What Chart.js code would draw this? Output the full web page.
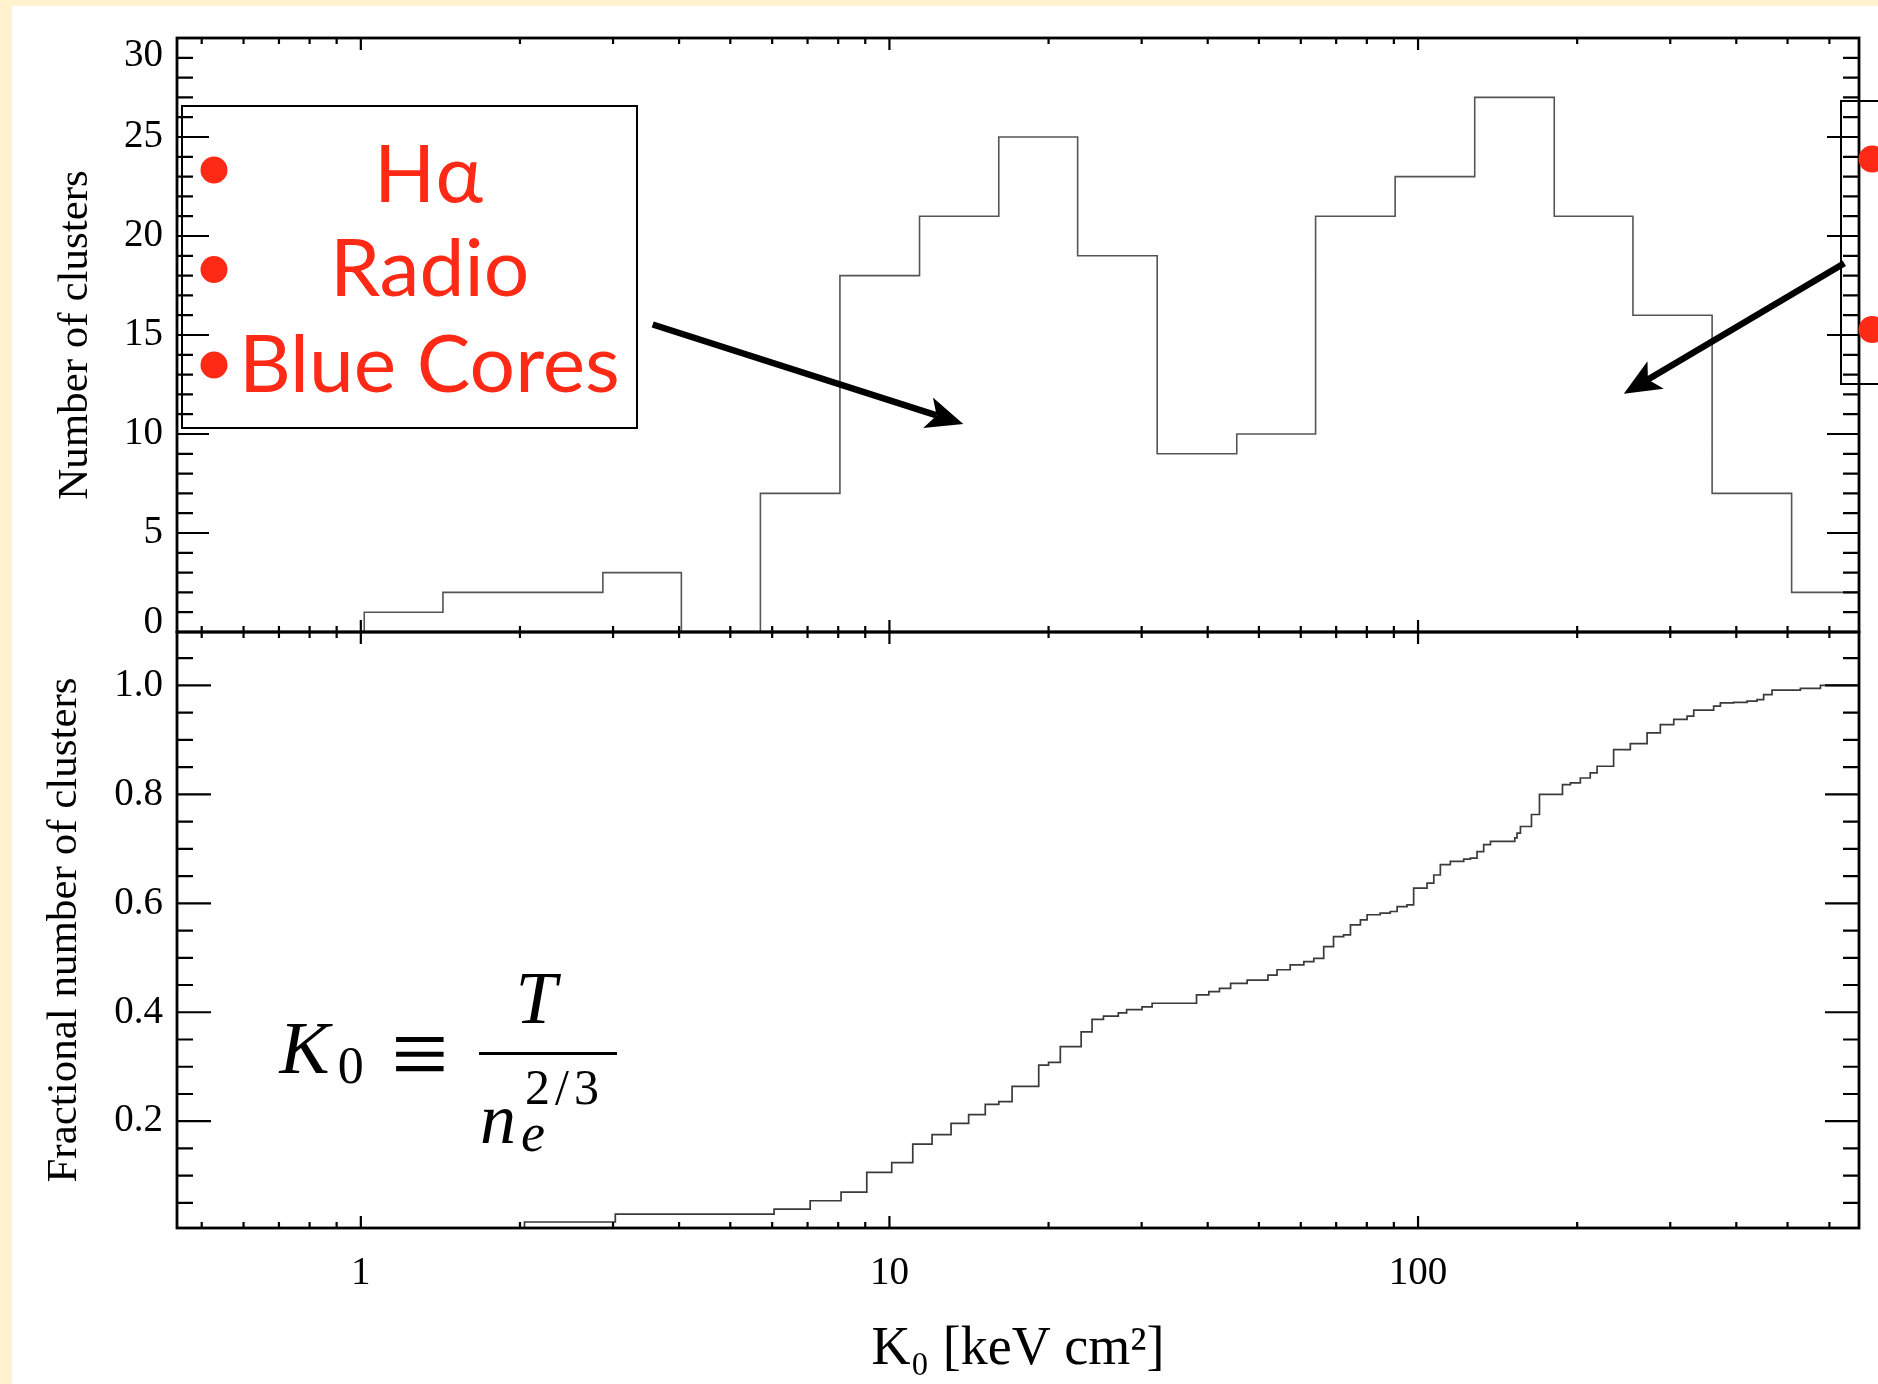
<!DOCTYPE html>
<html><head><meta charset="utf-8">
<script src="https://cdn.jsdelivr.net/npm/chart.js@4/dist/chart.umd.min.js"></script>
<style>
html,body{margin:0;padding:0;background:#fff;}
#wrap{position:relative;width:1878px;height:1384px;overflow:hidden;background:#fff;}
canvas{position:absolute;left:0;top:0;}
</style></head><body>
<div id="wrap"><canvas id="top" width="1878" height="1384"></canvas><canvas id="bot" width="1878" height="1384"></canvas></div>
<script>
// ---------- data ----------
const histEdges  = [1.015, 1.43, 2.03, 2.87, 4.04, 5.70, 8.06, 11.4, 16.1, 22.7, 32.1, 45.4, 64.0, 90.5, 128, 181, 255, 360, 509, 718];
const histCounts = [1, 2, 2, 3, 0, 7, 18, 21, 25, 19, 9, 10, 21, 23, 27, 21, 16, 7, 2];

const cumK = [1.06, 2.04, 3.03, 6.05, 7.08, 8.1, 9.06, 10.1, 11.07, 12.04,
  13.08, 14.12, 15.18, 16.1, 17.06, 19.16, 20.0, 21.05, 23.05, 24.17,
  25.4, 27.1, 28.1, 30.05, 31.4, 38.1, 40.2, 42.1, 44.2, 47.5,
  52.0, 54.1, 57.3, 60.8, 63.5, 66.3, 69.2, 72.3, 74.5, 77.8,
  80.1, 84.8, 88.6, 91.3, 95.3, 98.1, 104, 107.1, 110.2, 115.1,
  122, 125.6, 129.3, 133.1, 137.1, 152.4, 153.9, 156.2, 163.9, 169.7,
  187.6, 194.2, 202.8, 211.7, 218.1, 234.4, 252.1, 271.2, 287.3, 304.6,
  322.8, 332.3, 362.4, 373.2, 395.4, 419.2, 437.8, 450.6, 467.4, 528.8,
  577, 720];
const cumF = [0.004, 0.015, 0.0295, 0.0385, 0.054, 0.070, 0.106, 0.124, 0.158, 0.1755,
  0.196, 0.212, 0.231, 0.236, 0.264, 0.303, 0.308, 0.337, 0.364, 0.387,
  0.393, 0.399, 0.405, 0.410, 0.4165, 0.432, 0.438, 0.444, 0.453, 0.459,
  0.468, 0.478, 0.487, 0.493, 0.499, 0.5205, 0.539, 0.542, 0.5605, 0.5697,
  0.579, 0.582, 0.585, 0.594, 0.597, 0.628, 0.637, 0.652, 0.671, 0.677,
  0.681, 0.683, 0.695, 0.7076, 0.7137, 0.72, 0.729, 0.741, 0.763, 0.80,
  0.818, 0.821, 0.830, 0.8394, 0.8516, 0.882, 0.893, 0.913, 0.928, 0.9375,
  0.9436, 0.9545, 0.962, 0.968, 0.969, 0.971, 0.974, 0.983, 0.9914, 0.9945,
  1.0, 1.0];

const xLabelTicks = [1, 10, 100];
const xMinorTicks = [0.5, 0.6, 0.7, 0.8, 0.9, 2, 3, 4, 5, 6, 7, 8, 9, 20, 30, 40, 50, 60, 70, 80, 90, 200, 300, 400, 500, 600];
const topYTicks  = [0, 5, 10, 15, 20, 25, 30];
const topYMinor  = [1,2,3,4,6,7,8,9,11,12,13,14,16,17,18,19,21,22,23,24,26,27,28,29];
const botYTicks  = [0.2, 0.4, 0.6, 0.8, 1.0];
const botYMinor  = [0.05,0.1,0.15,0.25,0.3,0.35,0.45,0.5,0.55,0.65,0.7,0.75,0.85,0.9,0.95,1.05];
const legendLabels = ['Hα', 'Radio', 'Blue Cores'];
const topTitle = 'Number of clusters';
const botTitle = 'Fractional number of clusters';
const xTitle = 'K₀ [keV cm²]';

// ---------- styling ----------
const X_MIN = 0.449, X_MAX = 682.6;
const SERIF = "'Liberation Serif', 'Times New Roman', serif";
const RED = '#ff2a16';
Chart.defaults.font.family = SERIF;
Chart.defaults.color = '#000';

const histPoints = [{x: histEdges[0], y: 0}];
for (let i = 0; i < histCounts.length; i++) histPoints.push({x: histEdges[i], y: histCounts[i]});
histPoints.push({x: histEdges[histEdges.length - 1], y: histCounts[histCounts.length - 1]});
const cumPoints = cumK.map((k, i) => ({x: k, y: cumF[i]}));

function frameAndTicks(chart, yMaj, yMin, yMajLen) {
  const {ctx, chartArea: a, scales: {x, y}} = chart;
  ctx.save();
  ctx.strokeStyle = '#000'; ctx.lineWidth = 2.2; ctx.lineCap = 'butt';
  ctx.beginPath();
  const hy = (v, len) => { const p = y.getPixelForValue(v); if (p < a.top - 0.5 || p > a.bottom + 0.5) return;
    ctx.moveTo(a.left, p); ctx.lineTo(a.left + len, p); ctx.moveTo(a.right, p); ctx.lineTo(a.right - len, p); };
  const vx = (v, len) => { const p = x.getPixelForValue(v); if (p < a.left || p > a.right) return;
    ctx.moveTo(p, a.top); ctx.lineTo(p, a.top + len); ctx.moveTo(p, a.bottom); ctx.lineTo(p, a.bottom - len); };
  yMaj.forEach(v => hy(v, yMajLen)); yMin.forEach(v => hy(v, 16));
  xLabelTicks.forEach(v => vx(v, 12)); xMinorTicks.forEach(v => vx(v, 6));
  ctx.stroke();
  ctx.lineWidth = 2.8;
  ctx.strokeRect(a.left, a.top, a.right - a.left, a.bottom - a.top);
  ctx.restore();
}

function arrow(ctx, x1, y1, x2, y2, w, hl, hw) {
  const ang = Math.atan2(y2 - y1, x2 - x1), c = Math.cos(ang), s = Math.sin(ang);
  const bx = x2 - hl * c, by = y2 - hl * s, nx = -s, ny = c;
  ctx.lineWidth = w; ctx.lineCap = 'butt'; ctx.strokeStyle = '#000'; ctx.fillStyle = '#000';
  ctx.beginPath(); ctx.moveTo(x1, y1); ctx.lineTo(bx + 6 * c, by + 6 * s); ctx.stroke();
  ctx.beginPath(); ctx.moveTo(x2, y2);
  ctx.lineTo(bx - 3 * c + hw * nx, by - 3 * s + hw * ny);
  ctx.lineTo(bx + 6 * c, by + 6 * s);
  ctx.lineTo(bx - 3 * c - hw * nx, by - 3 * s - hw * ny);
  ctx.closePath(); ctx.fill();
}

function txt(ctx, s, font, left, baseline) {
  ctx.font = font; const m = ctx.measureText(s);
  ctx.fillText(s, left + m.actualBoundingBoxLeft, baseline);
}

const bgPlugin = {
  id: 'bg',
  beforeDraw(chart) {
    const ctx = chart.ctx; ctx.save();
    ctx.fillStyle = '#ffffff'; ctx.fillRect(0, 0, 1878, 1384);
    ctx.fillStyle = '#fff2cc'; ctx.fillRect(0, 0, 1878, 6); ctx.fillRect(0, 0, 12, 1384);
    ctx.restore();
  }
};

const topOverlay = {
  id: 'topOverlay',
  afterDraw(chart) {
    frameAndTicks(chart, topYTicks, topYMinor, 32);
    const ctx = chart.ctx, y = chart.scales.y;
    ctx.save();
    // end labels shifted inward (as in the original)
    ctx.fillStyle = '#000'; ctx.font = '39px ' + SERIF; ctx.textAlign = 'right';
    ctx.textBaseline = 'alphabetic';
    ctx.fillText(String(topYTicks[0]), 163, y.getPixelForValue(0) + 1);
    ctx.textBaseline = 'top';
    ctx.fillText(String(topYTicks[topYTicks.length - 1]), 163, y.getPixelForValue(30) - 2);

    // left legend box
    ctx.strokeStyle = '#000'; ctx.lineWidth = 2;
    ctx.strokeRect(182, 106, 455, 322);
    // right (cut) legend box
    ctx.beginPath(); ctx.moveTo(1900, 101); ctx.lineTo(1841, 101); ctx.lineTo(1841, 384); ctx.lineTo(1900, 384); ctx.stroke();

    ctx.fillStyle = RED;
    [[214, 170], [214, 269.5], [214, 365], [1872, 159], [1872, 329.5]].forEach(([cx, cy]) => {
      ctx.beginPath(); ctx.arc(cx, cy, 13.5, 0, Math.PI * 2); ctx.fill();
    });

    ctx.font = '100px Lato';
    const wRef = ctx.measureText(legendLabels[2]).width;
    const fs = 100 * 381 / wRef;
    ctx.font = fs.toFixed(1) + 'px Lato';
    ctx.textBaseline = 'alphabetic';
    ctx.textAlign = 'center';
    ctx.fillText(legendLabels[0], 428.5, 202);
    ctx.fillText(legendLabels[1], 429.6, 296);
    ctx.textAlign = 'left';
    ctx.fillText(legendLabels[2], 239, 392);

    arrow(ctx, 652.7, 324.5, 963.3, 424, 6.5, 34, 16);
    arrow(ctx, 1844.3, 263.2, 1623.8, 393.8, 6.5, 34, 16);
    ctx.restore();
  }
};

const botOverlay = {
  id: 'botOverlay',
  afterDraw(chart) {
    frameAndTicks(chart, botYTicks, botYMinor, 34);
    const ctx = chart.ctx;
    ctx.save();
    ctx.fillStyle = '#000'; ctx.textAlign = 'left'; ctx.textBaseline = 'alphabetic';
    txt(ctx, 'K', 'italic 75px ' + SERIF, 278.4, 1072.5);
    txt(ctx, '0', '52px ' + SERIF, 338.7, 1082.5);
    // identical-to sign, fit to its box
    ctx.font = '100px ' + SERIF;
    let m = ctx.measureText('≡');
    const eqSize = 100 * 49 / (m.actualBoundingBoxRight + m.actualBoundingBoxLeft);
    ctx.font = eqSize.toFixed(1) + 'px ' + SERIF;
    m = ctx.measureText('≡');
    const base = 1053.75 - (m.actualBoundingBoxDescent - m.actualBoundingBoxAscent) / 2;
    ctx.fillText('≡', 396 + m.actualBoundingBoxLeft, base);
    ctx.fillRect(479, 1052, 138, 3);
    txt(ctx, 'T', 'italic 74px ' + SERIF, 519.5, 1022.5);
    txt(ctx, 'n', 'italic 72px ' + SERIF, 482, 1142.5);
    txt(ctx, 'e', 'italic 54px ' + SERIF, 522, 1151);
    ctx.font = '50px ' + SERIF;
    try { ctx.letterSpacing = '5px'; } catch (e) {}
    ctx.fillText('2/3', 525, 1104);
    try { ctx.letterSpacing = '0px'; } catch (e) {}
    ctx.restore();
  }
};

const common = {
  responsive: false, animation: false, devicePixelRatio: 1,
  plugins: { legend: { display: false }, tooltip: { enabled: false } },
  elements: { point: { radius: 0 }, line: { tension: 0 } }
};

new Chart(document.getElementById('top'), {
  type: 'line',
  data: { datasets: [{ data: histPoints, stepped: true, borderColor: '#555555', borderWidth: 1.6, pointRadius: 0, fill: false }] },
  options: Object.assign({}, common, {
    layout: { padding: { top: 38, right: 19, bottom: 752, left: 0 } },
    scales: {
      x: { type: 'logarithmic', min: X_MIN, max: X_MAX, display: false },
      y: { type: 'linear', min: 0, max: 30,
        afterFit: s => { s.width = 177; },
        afterBuildTicks: s => { s.ticks = topYTicks.map(v => ({ value: v })); },
        grid: { display: false, drawTicks: false }, border: { display: false },
        ticks: { padding: 14, font: { size: 39 }, color: '#000', autoSkip: false,
          callback: v => (v === topYTicks[0] || v === topYTicks[topYTicks.length - 1]) ? '' : String(v) },
        title: { display: true, text: topTitle, font: { size: 43 }, color: '#000', padding: { top: 50, bottom: 0 } } }
    }
  }),
  plugins: [bgPlugin, topOverlay]
});

new Chart(document.getElementById('bot'), {
  type: 'line',
  data: { datasets: [{ data: cumPoints, stepped: true, borderColor: '#3a3a3a', borderWidth: 1.7, pointRadius: 0, fill: false }] },
  options: Object.assign({}, common, {
    layout: { padding: { top: 632, right: 19, bottom: 0, left: 0 } },
    scales: {
      x: { type: 'logarithmic', min: X_MIN, max: X_MAX, position: 'bottom',
        afterFit: s => { s.height = 156; },
        afterBuildTicks: s => { s.ticks = xLabelTicks.map(v => ({ value: v })); },
        grid: { display: false, drawTicks: false }, border: { display: false },
        ticks: { padding: 22, font: { size: 39 }, color: '#000', autoSkip: false, maxRotation: 0, callback: v => String(v) },
        title: { display: true, text: xTitle, font: { size: 54 }, color: '#000', padding: { top: 0, bottom: 2 } } },
      y: { type: 'linear', min: 0.004, max: 1.098,
        afterFit: s => { s.width = 177; },
        afterBuildTicks: s => { s.ticks = botYTicks.map(v => ({ value: v })); },
        grid: { display: false, drawTicks: false }, border: { display: false },
        ticks: { padding: 14, font: { size: 39 }, color: '#000', autoSkip: false, callback: v => v.toFixed(1) },
        title: { display: true, text: botTitle, font: { size: 43 }, color: '#000', padding: { top: 39, bottom: 0 } } }
    }
  }),
  plugins: [botOverlay]
});
</script>
</body></html>
